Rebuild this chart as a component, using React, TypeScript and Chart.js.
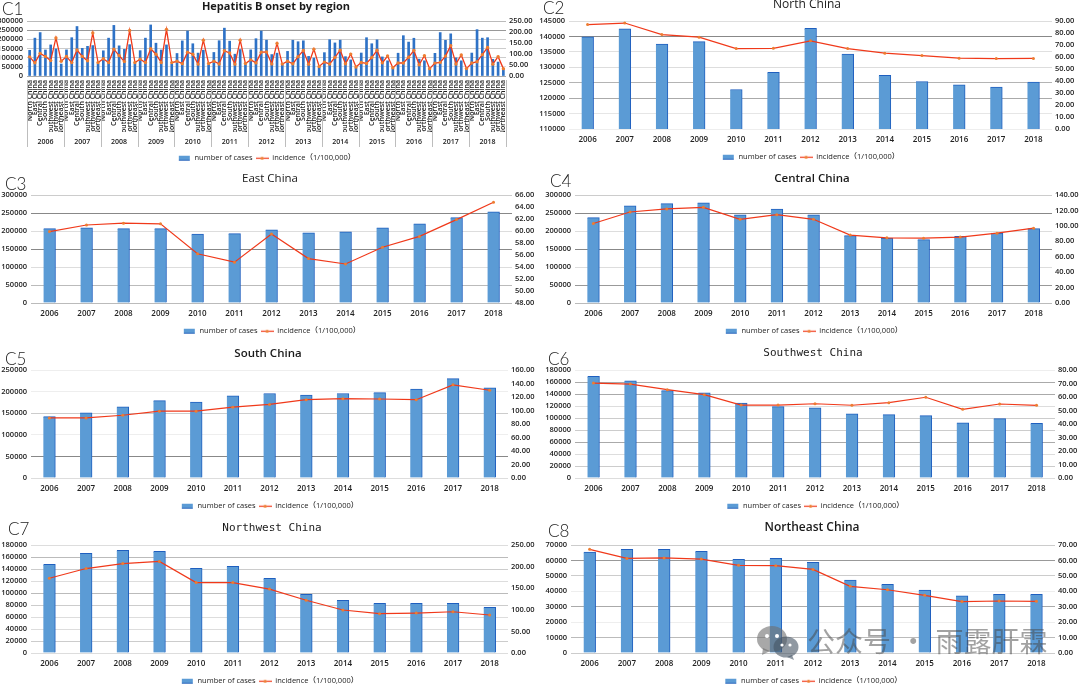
import React, { useEffect, useRef } from "react";
import { Chart, registerables } from "chart.js";

Chart.register(...registerables);

const years = ["2006","2007","2008","2009","2010","2011","2012","2013","2014","2015","2016","2017","2018"];
const regionNames = ["North China","East China","Central China","South China","Southwest China","Northwest China","Northeast China"];
const casesLabel = "number of cases";
const incidenceLabel = "incidence（1/100,000）";

const northCases = [139900,142500,137500,138300,122800,128400,142600,134300,127400,125400,124300,123600,125200];
const northIncidence = [87,88.3,78.7,76.5,67,67.2,73.5,67,63.2,61.2,59,58.7,58.8];
const eastCases = [206500,209000,206500,206500,191500,192500,203500,195000,198000,209000,220000,237000,253000];
const eastIncidence = [59.9,61,61.3,61.2,56.2,54.8,59.5,55.4,54.5,57.3,59.1,61.9,64.8];
const centralCases = [237000,270000,276000,278500,245000,261000,245000,187000,180500,176000,185000,194500,206500];
const centralIncidence = [103,118,122,124,108.5,114.5,108.5,88,84.5,84,85.5,90.5,97];
const southCases = [142000,151000,164500,179000,176000,190000,195500,192000,195500,197500,206000,230000,209000];
const southIncidence = [89,89,93,99,99,105,109,116,117.5,117,116,138,130];
const southwestCases = [169500,162000,145500,142000,125000,119000,117000,107000,105500,104000,92000,99000,91000];
const southwestIncidence = [70.3,69.6,65.4,61.7,54,54,55,53.9,55.8,59.8,50.9,54.8,53.8];
const northwestCases = [147800,166000,171000,169500,141000,144500,124500,97800,87800,82800,82800,82800,76000];
const northwestIncidence = [173,195.5,207,212,163,163,148,122,99.5,91,92.5,95.5,88];
const northeastCases = [65400,67200,67200,65900,60700,61300,58800,47300,44500,40800,37100,38000,38000];
const northeastIncidence = [67.2,61.3,61.6,60.9,56.8,56.6,54.2,43.2,41,37.4,33.3,33.7,33.5];

const allCases = [northCases,eastCases,centralCases,southCases,southwestCases,northwestCases,northeastCases];
const allIncidence = [northIncidence,eastIncidence,centralIncidence,southIncidence,southwestIncidence,northwestIncidence,northeastIncidence];

const overviewLabels = years.flatMap(() => regionNames);
const overviewYearLabels = years.flatMap((y) => regionNames.map((_, i) => (i === 3 ? y : "")));
const overviewCases = years.flatMap((_, yi) => allCases.map((s) => s[yi]));
const overviewIncidence = years.flatMap((_, yi) => allIncidence.map((s) => s[yi]));

const FONT = '"Open Sans", "Noto Sans CJK SC", sans-serif';
const TICK_COLOR = "#222";

type Panel = {
  code: string; title: string; labels: string[]; cases: number[]; incidence: number[];
  left: [number, number, number]; right: [number, number, number];
  plot: { l: number; r: number; t: number; b: number };
  titleX: number; titleY: number; titleFont: any;
  codeX: number; codeY: number;
  grid: string[]; overview?: boolean;
};

const openB = (size: number, weight: any = "bold") => ({ family: FONT, size, weight });
const mono = { family: '"DejaVu Sans Mono", monospace', size: 11, weight: "normal" };

const panels: Panel[] = [
  { code:"C1", title:"Hepatitis B onset by region", labels:overviewLabels, cases:overviewCases, incidence:overviewIncidence,
    left:[0,300000,50000], right:[0,250,50], plot:{l:27,r:506,t:21,b:76}, titleX:276, titleY:7, titleFont:openB(11),
    codeX:2, codeY:-3, grid:["#aaa","#ddd","#ccc","#ccc","#ccc","#999","#bbb"], overview:true },
  { code:"C2", title:"North China", labels:years, cases:northCases, incidence:northIncidence,
    left:[110000,145000,5000], right:[0,90,10], plot:{l:569,r:1052,t:21,b:129}, titleX:807, titleY:5, titleFont:openB(12,"normal"),
    codeX:543, codeY:-4, grid:["#eee","#e6e6e6","#aaa","#b4b4b4","#ddd","#e0e0e0","#888","#ddd"] },
  { code:"C3", title:"East China", labels:years, cases:eastCases, incidence:eastIncidence,
    left:[0,300000,50000], right:[48,66,2], plot:{l:31,r:512,t:195,b:303}, titleX:270, titleY:179, titleFont:openB(11.5,"normal"),
    codeX:5, codeY:172, grid:["#bbb","#bbb","#ddd","#888","#ddd","#888","#ccc"] },
  { code:"C4", title:"Central China", labels:years, cases:centralCases, incidence:centralIncidence,
    left:[0,300000,50000], right:[0,140,20], plot:{l:575,r:1052,t:195,b:303}, titleX:812, titleY:179, titleFont:openB(11.5,600),
    codeX:550, codeY:169, grid:["#bbb","#999","#ddd","#888","#ddd","#888","#ccc"] },
  { code:"C5", title:"South China", labels:years, cases:southCases, incidence:southIncidence,
    left:[0,250000,50000], right:[0,160,20], plot:{l:31,r:508,t:370,b:478}, titleX:268, titleY:354, titleFont:openB(11.5,600),
    codeX:5, codeY:347, grid:["#ddd","#888","#eee","#ccc","#eee","#eee"] },
  { code:"C6", title:"Southwest China", labels:years, cases:southwestCases, incidence:southwestIncidence,
    left:[0,180000,20000], right:[0,80,10], plot:{l:575,r:1055,t:370,b:478}, titleX:813, titleY:353, titleFont:mono,
    codeX:548, codeY:347, grid:["#ddd","#ccc","#ddd","#aaa","#ccc","#ccc","#ddd","#aaa","#aaa","#eee"] },
  { code:"C7", title:"Northwest China", labels:years, cases:northwestCases, incidence:northwestIncidence,
    left:[0,180000,20000], right:[0,250,50], plot:{l:31,r:508,t:545,b:653}, titleX:272, titleY:528, titleFont:mono,
    codeX:8, codeY:517, grid:["#ddd","#ccc","#ddd","#ddd","#ccc","#bbb","#ddd","#ccc","#bbb","#ddd"] },
  { code:"C8", title:"Northeast China", labels:years, cases:northeastCases, incidence:northeastIncidence,
    left:[0,70000,10000], right:[0,70,10], plot:{l:571,r:1055,t:545,b:653}, titleX:812, titleY:528, titleFont:openB(12,600),
    codeX:548, codeY:519, grid:["#ccc","#bbb","#eee","#aaa","#eee","#ccc","#999","#ccc"] },
];

const CANVAS_W = 600;
const TOP_BLOCK = 26;

function swatch(kind: "bar" | "line") {
  const c = document.createElement("canvas");
  c.width = 13;
  c.height = 7;
  const g = c.getContext("2d")!;
  if (kind === "bar") {
    g.fillStyle = "#5B9BD5";
    g.fillRect(1, 1, 11, 5);
    g.fillStyle = "#2a66bd";
    g.fillRect(1, 5, 11, 1);
  } else {
    g.strokeStyle = "#F0391A";
    g.lineWidth = 1.2;
    g.beginPath();
    g.moveTo(0, 3.5);
    g.lineTo(13, 3.5);
    g.stroke();
    g.fillStyle = "#ED7D31";
    g.beginPath();
    g.arc(6.5, 3.5, 1.6, 0, Math.PI * 2);
    g.fill();
  }
  return c;
}

const separators = {
  id: "yearSeparators",
  afterDraw(chart: any) {
    const x = chart.scales.x;
    const bottom = chart.chartArea.bottom;
    const ctx = chart.ctx;
    ctx.save();
    ctx.strokeStyle = "#bdbdbd";
    ctx.lineWidth = 1;
    for (let i = 0; i <= years.length; i++) {
      const px = Math.round(x.getPixelForValue(i * regionNames.length - 0.5)) + 0.5;
      ctx.beginPath();
      ctx.moveTo(px, bottom + 4);
      ctx.lineTo(px, bottom + 71);
      ctx.stroke();
    }
    ctx.restore();
  },
};

function PanelChart({ p }: { p: Panel }) {
  const ref = useRef<HTMLCanvasElement | null>(null);
  const canvasLeft = p.titleX - CANVAS_W / 2;
  const canvasTop = p.plot.t - TOP_BLOCK;
  const below = p.overview ? 96 : 42;
  const canvasH = TOP_BLOCK + (p.plot.b - p.plot.t) + below;
  const titleLine = p.titleFont.size * 1.2;
  const titleTop = p.titleY - canvasTop - titleLine / 2;
  const legendBlock = 20.5;
  const bottomPad = 0;
  const xTotal = below - legendBlock - bottomPad;

  useEffect(() => {
    if (!ref.current) return;
    const leftW = p.plot.l - canvasLeft;
    const rightW = canvasLeft + CANVAS_W - p.plot.r;
    const tickFont = { family: FONT, size: 7.5, weight: 600 };
    const xFont = { family: FONT, size: 8, weight: 600 };
    const barSw = swatch("bar");
    const lineSw = swatch("line");
    const scales: any = {
      x: {
        type: "category",
        offset: true,
        grid: { display: false, drawTicks: false },
        border: { display: false },
        afterFit: (s: any) => { s.height = p.overview ? 56 : xTotal; },
        ticks: p.overview
          ? { autoSkip: false, minRotation: 90, maxRotation: 90, padding: 4, color: TICK_COLOR, font: { family: FONT, size: 7, weight: 600 } }
          : { autoSkip: false, maxRotation: 0, padding: 6, color: TICK_COLOR, font: xFont },
      },
      y: {
        position: "left",
        min: p.left[0], max: p.left[1],
        grid: { color: (c: any) => p.grid[c.index] || "#ddd", drawTicks: false, lineWidth: 1 },
        border: { display: false },
        afterFit: (s: any) => { s.width = leftW; },
        ticks: { autoSkip: false, stepSize: p.left[2], padding: 4, color: TICK_COLOR, font: tickFont, callback: (v: any) => String(v) },
      },
      y2: {
        position: "right",
        min: p.right[0], max: p.right[1],
        grid: { display: false, drawTicks: false },
        border: { display: false },
        afterFit: (s: any) => { s.width = rightW; },
        ticks: { autoSkip: false, stepSize: p.right[2], padding: 3, color: TICK_COLOR, font: tickFont, callback: (v: any) => Number(v).toFixed(2) },
      },
    };
    if (p.overview) {
      scales.xYear = {
        type: "category",
        position: "bottom",
        labels: overviewYearLabels,
        offset: true,
        grid: { display: false, drawTicks: false },
        border: { display: false },
        afterFit: (s: any) => { s.height = xTotal - 56; },
        ticks: { autoSkip: false, maxRotation: 0, padding: 6, color: TICK_COLOR, font: { family: FONT, size: 7, weight: 600 } },
      };
    }
    const chart = new Chart(ref.current, {
      type: "bar",
      data: {
        labels: p.labels,
        datasets: [
          {
            type: "line", label: incidenceLabel, data: p.incidence, yAxisID: "y2", order: 0,
            borderColor: "#F0391A", borderWidth: p.overview ? 1.3 : 1.2, tension: 0,
            pointRadius: p.overview ? 1.7 : 1.5, pointBackgroundColor: "#ED7D31", pointBorderColor: "#ED7D31", pointBorderWidth: 0,
          },
          {
            type: "bar", label: casesLabel, data: p.cases, yAxisID: "y", order: 1,
            backgroundColor: p.overview ? "#2E72C6" : "#5B9BD5",
            borderColor: "#1F5FBF",
            borderWidth: p.overview ? 0 : { top: 1, right: 1, left: 0, bottom: 0 },
            barThickness: p.overview ? 2 : 12,
          },
        ] as any,
      },
      options: {
        responsive: false,
        animation: false,
        layout: { padding: { bottom: bottomPad } },
        plugins: {
          tooltip: { enabled: false },
          title: {
            display: true,
            text: p.title,
            color: "#1a1a1a",
            font: p.titleFont,
            padding: { top: titleTop, bottom: TOP_BLOCK - titleTop - titleLine },
          },
          legend: {
            display: true,
            position: "bottom",
            fullSize: false,
            reverse: true,
            labels: {
              usePointStyle: true,
              pointStyleWidth: 13,
              boxHeight: 6,
              padding: 3,
              color: TICK_COLOR,
              font: { family: FONT, size: 7.5, weight: 500 },
              generateLabels: (c: any) =>
                Chart.defaults.plugins.legend.labels.generateLabels(c).map((it: any) => ({
                  ...it,
                  pointStyle: it.text === casesLabel ? barSw : lineSw,
                })),
            },
          },
        },
        scales,
      } as any,
      plugins: p.overview ? [separators] : [],
    });
    return () => chart.destroy();
  }, []);

  return (
    <canvas
      ref={ref}
      width={CANVAS_W}
      height={canvasH}
      style={{ position: "absolute", left: canvasLeft, top: canvasTop, width: CANVAS_W, height: canvasH }}
    />
  );
}

function Watermark() {
  return (
    <div style={{ position: "absolute", left: 757, top: 626, width: 300, height: 36, pointerEvents: "none" }}>
      <svg width="42" height="34" viewBox="0 0 42 34" style={{ position: "absolute", left: 0, top: 0 }}>
        <ellipse cx="15" cy="13" rx="15" ry="13" fill="rgba(110,110,110,0.6)" />
        <path d="M6 22 L5 29 L13 25 Z" fill="rgba(110,110,110,0.6)" />
        <ellipse cx="29" cy="21" rx="12.5" ry="10.5" fill="rgba(70,85,100,0.6)" />
        <path d="M35 29 L37 34 L30 31 Z" fill="rgba(70,85,100,0.6)" />
        <circle cx="10" cy="10" r="2" fill="#fff" />
        <circle cx="20" cy="10" r="2" fill="#fff" />
        <circle cx="25" cy="19" r="1.6" fill="#fff" />
        <circle cx="33" cy="19" r="1.6" fill="#fff" />
      </svg>
      <div style={{ position: "absolute", left: 50, top: -6, whiteSpace: "nowrap", fontFamily: '"Noto Sans CJK SC", sans-serif', fontSize: 28, lineHeight: "40px", letterSpacing: 0, wordSpacing: 2, color: "rgba(70,70,70,0.5)" }}>
        公众号 · 雨露肝霖
      </div>
    </div>
  );
}

export default function App() {
  return (
    <div style={{ position: "absolute", left: 0, top: 0, width: 1080, height: 684, overflow: "hidden", background: "#fff" }}>
      {panels.map((p) => <PanelChart key={p.code} p={p} />)}
      {panels.map((p) => (
        <div key={p.code + "l"} style={{ position: "absolute", left: p.codeX, top: p.codeY, fontFamily: 'Lato, sans-serif', fontSize: 17, lineHeight: "24px", color: "#222", fontWeight: 300 }}>
          {p.code}
        </div>
      ))}
      <Watermark />
    </div>
  );
}
